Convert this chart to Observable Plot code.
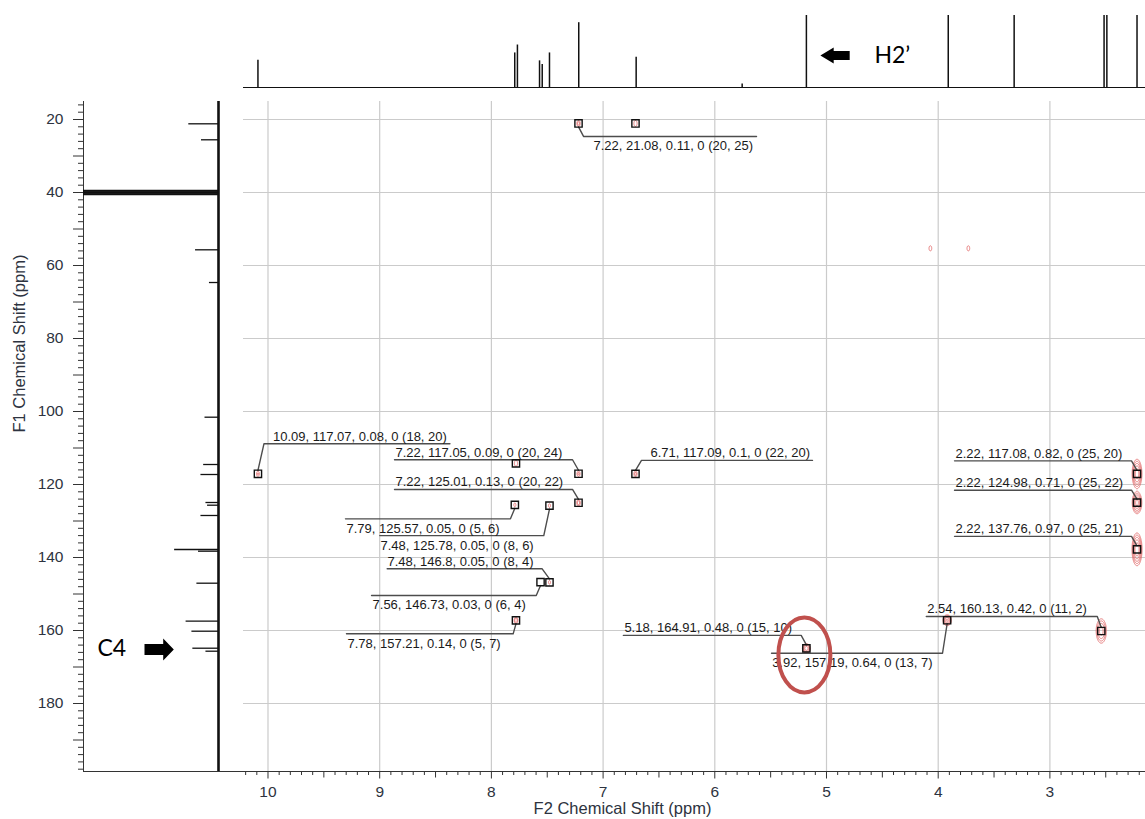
<!DOCTYPE html>
<html>
<head>
<meta charset="utf-8">
<script src="https://cdn.jsdelivr.net/npm/d3@7"></script>
<script src="https://cdn.jsdelivr.net/npm/@observablehq/plot@0.6"></script>
<style>
  body { margin: 0; background: #fff; }
  #fig { position: relative; width: 1145px; height: 819px; overflow: hidden; background: #fff; }
  #fig svg { position: absolute; left: 0; top: 0; }
</style>
</head>
<body>
<div id="fig"></div>
<script>
// ---- Axes (ppm) ----
const f2View = [10.2193, 2.1441];          // 1H, left -> right
const f1View = [198.63, 15.068];           // 13C, bottom -> top
const f2Ticks = [10, 9, 8, 7, 6, 5, 4, 3];
const f1Ticks = [20, 40, 60, 80, 100, 120, 140, 160, 180];

// ---- 1H projection (relative height; > 1 runs off the top) ----
const hShift  = [10.09, 7.791, 7.767, 7.569, 7.545, 7.48, 7.218, 6.704, 5.755, 5.18, 3.91, 3.32, 2.515, 2.49, 2.22];
const hHeight = [0.38, 0.48, 0.59, 0.37, 0.32, 0.48, 0.90, 0.42, 0.05, 2.1, 3.0, 2.5, 5, 5, 3.5];

// ---- 13C projection (relative height; DMSO-d6 multiplet near 40 ppm) ----
const cShift  = [21.18, 25.56, 39.45, 39.63, 39.82, 40.0, 40.18, 40.37, 40.55, 55.7, 64.66, 101.56, 114.52, 117.26,
                 124.93, 125.67, 128.49, 137.81, 138.27, 147.04, 157.45, 160.19, 164.85, 165.67];
const cHeight = [0.22, 0.126, 1.5, 1.5, 1.5, 1.5, 1.5, 1.5, 1.5, 0.17, 0.067, 0.10, 0.11, 0.13,
                 0.093, 0.081, 0.13, 0.325, 0.148, 0.16, 0.24, 0.197, 0.19, 0.093];

// ---- HMBC cross peaks with peak-pick labels ----
const crossF2        = [7.22, 10.09, 7.22, 7.22, 7.79, 7.48, 7.48, 7.56, 7.78, 6.71, 2.22, 2.22, 2.22, 5.18, 3.92, 2.54];
const crossF1        = [21.08, 117.07, 117.05, 125.01, 125.57, 125.78, 146.8, 146.73, 157.21, 117.09, 117.08, 124.98, 137.76, 164.91, 157.19, 160.13];
const crossIntensity = [0.11, 0.08, 0.09, 0.13, 0.05, 0.05, 0.05, 0.03, 0.14, 0.1, 0.82, 0.71, 0.97, 0.48, 0.64, 0.42];
const crossAtomH     = [20, 18, 20, 20, 5, 8, 8, 6, 5, 22, 25, 25, 25, 15, 13, 11];
const crossAtomC     = [25, 20, 24, 22, 6, 6, 4, 4, 7, 20, 20, 22, 21, 10, 7, 2];
// peak line widths (ppm, Gaussian sigma)
const crossWidthF2   = [0.009, 0.009, 0.009, 0.009, 0.009, 0.009, 0.009, 0.009, 0.009, 0.009, 0.017, 0.017, 0.017, 0.015, 0.015, 0.02];
const crossWidthF1   = [0.5, 0.5, 0.5, 0.5, 0.5, 0.5, 0.5, 0.5, 0.5, 0.5, 1.55, 1.2, 1.7, 0.55, 0.6, 1.45];

// ---- other cross peaks (no label) ----
const otherF2        = [6.71, 7.78, 4.07, 3.73];
const otherF1        = [21.08, 114.2, 55.3, 55.3];
const otherIntensity = [0.06, 0.06, 0.05, 0.05];
const otherPicked    = [true, true, false, false];

// ---- label placement: [line offset y, line from x, line to x, text x, side] in px from the peak ----
const leaderLayout = [
  [13, 5, 178, 15, "below"],
  [-30, 6, 192, 15, "above"],
  [-14, -184, -6, -183, "above"],
  [-13.3, -184, -6, -183, "above"],
  [14, -169.4, -4.4, -168.4, "below"],
  [30, -169.7, -5.7, -169, "below"],
  [-13.5, -162.3, -7.3, -162, "above"],
  [13.4, -169, -4.3, -168, "below"],
  [13.5, -169.5, -2.8, -168.5, "below"],
  [-13.5, 6, 177, 15, "above"],
  [-13, -182.5, -5.5, -181.5, "above"],
  [-12.5, -182.5, -5.5, -181.5, "above"],
  [-13, -182.5, -5.5, -181.5, "above"],
  [-13, -183, -5.2, -182, "above"],
  [33, -175.6, -4.6, -175, "below"],
  [-14.5, -175, -4, -174, "above"]
];

const W = 1145, H = 819;
const mainMargins = {marginLeft: 243, marginRight: 0, marginTop: 101, marginBottom: 48};
const baseStyle = {background: "transparent", overflow: "visible", fontFamily: "'Liberation Sans', Arial, sans-serif", color: "#222"};

// pixel mirror of the main plot scales, for offsetting label leaders
const xPx = d3.scaleLinear(f2View, [mainMargins.marginLeft, W - mainMargins.marginRight]);
const yPx = d3.scaleLinear(f1View, [H - mainMargins.marginBottom, mainMargins.marginTop]);

const leaders = [], labels = [];
crossF2.forEach((f2, i) => {
  const [dy, from, to, tx, side] = leaderLayout[i];
  const px = xPx(f2), py = yPx(crossF1[i]);
  const ly = py + dy;
  const near = Math.abs(from) < Math.abs(to) ? from : to;
  const far = near === from ? to : from;
  const edge = py + Math.sign(dy) * 3.5;
  [[px, edge], [px + near, ly], [px + far, ly]].forEach(([a, b]) =>
    leaders.push({id: i, x: xPx.invert(a), y: yPx.invert(b)}));
  labels.push({
    x: xPx.invert(px + tx),
    y: yPx.invert(side === "above" ? ly - 7.4 : ly + 9.8),
    text: `${f2}, ${crossF1[i]}, ${crossIntensity[i]}, 0 (${crossAtomH[i]}, ${crossAtomC[i]})`
  });
});

// all 2D peaks for the contour rendering
const peaks2d = [
  ...crossF2.map((x, i) => ({x, y: crossF1[i], a: crossIntensity[i], sx: crossWidthF2[i], sy: crossWidthF1[i]})),
  ...otherF2.map((x, i) => ({x, y: otherF1[i], a: otherIntensity[i], sx: 0.012, sy: 0.7}))
];
function spectrum(x, y) {
  let v = 0;
  for (const p of peaks2d) {
    const u = (x - p.x) / p.sx;
    if (u > 6 || u < -6) continue;
    const w = (y - p.y) / p.sy;
    if (w > 6 || w < -6) continue;
    v += p.a * Math.exp(-0.5 * (u * u + w * w));
  }
  return v;
}

const picked = [
  ...crossF2.map((x, i) => ({x, y: crossF1[i]})),
  ...otherF2.map((x, i) => ({x, y: otherF1[i]})).filter((d, i) => otherPicked[i])
];

const tenth = d3.range(22, 103).filter(i => i % 5 !== 0).map(i => i / 10);
const half = d3.range(25, 103, 10).map(i => i / 10);
const f1Minor = d3.range(16, 199, 2).filter(v => v % 10 !== 0);
const f1Tens = d3.range(20, 199, 10);

// symbols
const ellipseSymbol = {
  draw(ctx) {
    const rx = 26, ry = 37.5, k = 0.5523;
    ctx.moveTo(rx, 0);
    ctx.bezierCurveTo(rx, ry * k, rx * k, ry, 0, ry);
    ctx.bezierCurveTo(-rx * k, ry, -rx, ry * k, -rx, 0);
    ctx.bezierCurveTo(-rx, -ry * k, -rx * k, -ry, 0, -ry);
    ctx.bezierCurveTo(rx * k, -ry, rx, -ry * k, rx, 0);
    ctx.closePath();
  }
};
const arrowRight = {
  draw(ctx) {
    ctx.moveTo(0, 0);
    ctx.lineTo(-10.6, -11); ctx.lineTo(-10.6, -5.5); ctx.lineTo(-29.3, -5.5);
    ctx.lineTo(-29.3, 5.5); ctx.lineTo(-10.6, 5.5); ctx.lineTo(-10.6, 11);
    ctx.closePath();
  }
};
const arrowLeft = {
  draw(ctx) {
    ctx.moveTo(0, 0);
    ctx.lineTo(13.3, -8); ctx.lineTo(13.3, -4.5); ctx.lineTo(29.3, -4.5);
    ctx.lineTo(29.3, 4.5); ctx.lineTo(13.3, 4.5); ctx.lineTo(13.3, 8);
    ctx.closePath();
  }
};

// ---- 2D HMBC plane ----
const mainPlot = Plot.plot({
  width: W, height: H, ...mainMargins,
  x: {domain: f2View, axis: null},
  y: {domain: f1View, axis: null},
  style: baseStyle,
  marks: [
    Plot.ruleX(f2Ticks, {stroke: "#cbcbcb", strokeWidth: 1.2}),
    Plot.ruleY(f1Ticks, {stroke: "#cbcbcb", strokeWidth: 1.2}),
    Plot.axisX(tenth, {tickSize: 4, tickFormat: () => "", stroke: "#333", label: null}),
    Plot.axisX(half, {tickSize: 6.5, tickFormat: () => "", stroke: "#333", label: null}),
    Plot.axisX(f2Ticks, {tickSize: 7.5, tickPadding: 6.5, fontSize: 15.5, stroke: "#333", fill: "#2d3340", label: null}),
    Plot.frame({anchor: "bottom", stroke: "#333"}),
    Plot.contour({
      value: spectrum,
      x1: f2View[0], x2: f2View[1], y1: f1View[0], y2: f1View[1],
      thresholds: [0.03, 0.07, 0.15, 0.3, 0.55],
      pixelSize: 0.5,
      stroke: "#e06262", strokeWidth: 0.8, fill: "none"
    }),
    Plot.line(leaders, {x: "x", y: "y", z: "id", stroke: "#4d4d4d", strokeWidth: 1.4}),
    Plot.dot(picked, {x: "x", y: "y", symbol: "square", r: 4.1, stroke: "#111", strokeWidth: 1.4, fill: "none"}),
    Plot.text(labels, {x: "x", y: "y", text: "text", textAnchor: "start", lineAnchor: "middle", fontSize: 13, fill: "#1a1a1a"}),
    Plot.dot([{x: 5.18, y: 164.91}], {x: "x", y: "y", symbol: ellipseSymbol, stroke: "#c0504d", strokeWidth: 4, fill: "none", dx: -2, dy: 6.5}),
    Plot.text(["F2 Chemical Shift (ppm)"], {text: d => d, frameAnchor: "bottom", dx: -72, dy: 37, lineAnchor: "middle", fontSize: 16.5, fill: "#2d3340"})
  ]
});

// ---- 1H projection (top) ----
const topPlot = Plot.plot({
  width: W, height: 101, marginLeft: 243, marginRight: 0, marginTop: 15, marginBottom: 14,
  x: {domain: f2View, axis: null},
  y: {domain: [0, 1], axis: null},
  style: baseStyle,
  marks: [
    Plot.ruleY([0], {stroke: "#111", strokeWidth: 1.2}),
    Plot.ruleX(hShift, {x: d => d, y1: 0, y2: (d, i) => hHeight[i], stroke: "#111", strokeWidth: 1.5, clip: true}),
    Plot.dot([5.18], {x: d => d, frameAnchor: "top", dx: 14, dy: 40, symbol: arrowLeft, fill: "#000", stroke: "none"}),
    Plot.text(["H2\u2019"], {x: () => 5.18, text: d => d, frameAnchor: "top", dx: 68, dy: 40, textAnchor: "start", lineAnchor: "middle", fontSize: 23, fontFamily: "Lato", fill: "#000"})
  ]
});

// ---- 13C projection (left) with the F1 axis ----
const leftPlot = Plot.plot({
  width: 243, height: H, marginLeft: 83, marginRight: 0, marginTop: 101, marginBottom: 48,
  x: {domain: [0, 1], range: [218, 83], axis: null},
  y: {domain: f1View, axis: null},
  style: baseStyle,
  marks: [
    Plot.axisY(f1Minor, {tickSize: 5, tickFormat: () => "", stroke: "#333", label: null}),
    Plot.axisY(f1Tens, {tickSize: 10, tickFormat: () => "", stroke: "#333", label: null}),
    Plot.axisY(f1Ticks, {tickSize: 10, tickPadding: 10, fontSize: 15.5, stroke: "#333", fill: "#2d3340", label: null}),
    Plot.frame({anchor: "left", stroke: "#333"}),
    Plot.frame({anchor: "bottom", stroke: "#333"}),
    Plot.ruleX([0], {stroke: "#111", strokeWidth: 2.6}),
    Plot.ruleY(cShift, {y: d => d, x1: 0, x2: (d, i) => cHeight[i], stroke: "#111", strokeWidth: 1.3, clip: true}),
    Plot.dot([164.91], {y: d => d, frameAnchor: "left", dx: 90.3, dy: 1.1, symbol: arrowRight, fill: "#000", stroke: "none"}),
    Plot.text(["C4"], {y: () => 164.91, text: d => d, frameAnchor: "left", dx: 14, dy: 0.5, textAnchor: "start", lineAnchor: "middle", fontSize: 23, fontFamily: "Lato", fill: "#000"}),
    Plot.text(["F1 Chemical Shift (ppm)"], {text: d => d, frameAnchor: "left", dx: -64, dy: -4, rotate: -90, lineAnchor: "middle", fontSize: 16.5, fill: "#2d3340"})
  ]
});

document.getElementById("fig").append(mainPlot, leftPlot, topPlot);
</script>
</body>
</html>
